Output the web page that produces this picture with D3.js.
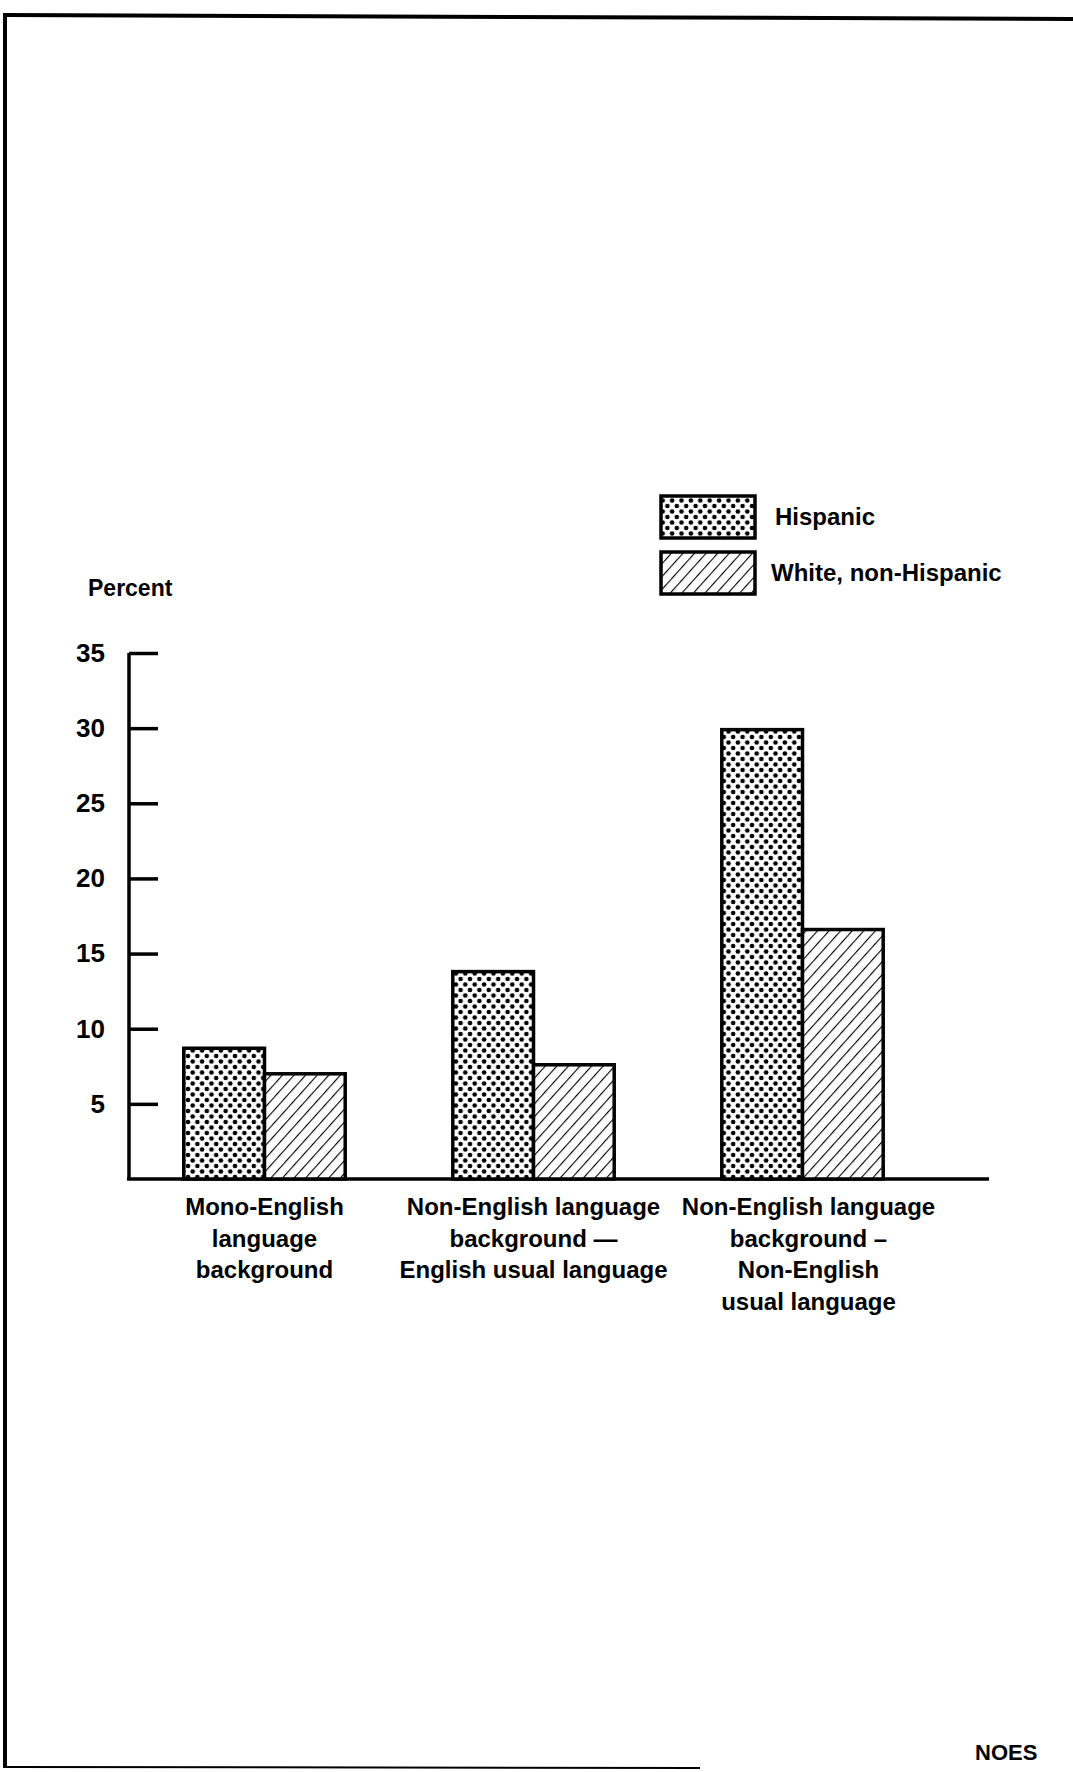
<!DOCTYPE html>
<html>
<head>
<meta charset="utf-8">
<script src="https://cdn.jsdelivr.net/npm/d3@7"></script>
<style>
  html, body { margin: 0; padding: 0; background: #fff; }
  svg { display: block; }
  text { font-family: "Liberation Sans", Arial, Helvetica, sans-serif; font-weight: bold; fill: #000; }
</style>
</head>
<body>
<script>
// ---- data ----
const categories = ["mono", "nonEngEng", "nonEngNonEng"];
const categoryLabels = [
  ["Mono-English", "language", "background"],
  ["Non-English language", "background \u2014", "English usual language"],
  ["Non-English language", "background \u2013", "Non-English", "usual language"]
];
const seriesNames = ["Hispanic", "White, non-Hispanic"];
const hispanicValues = [8.7, 13.8, 29.9];
const whiteValues = [7.0, 7.6, 16.6];
const yTicks = [5, 10, 15, 20, 25, 30, 35];
const yLabel = "Percent";

const W = 1073, H = 1772;
const svg = d3.select("body").append("svg").attr("width", W).attr("height", H);

// patterns
const defs = svg.append("defs");
const dw = 9.4, dh = 11;
const dots = defs.append("pattern").attr("id", "dots").attr("patternUnits", "userSpaceOnUse")
  .attr("width", dw).attr("height", dh);
dots.append("rect").attr("width", dw).attr("height", dh).attr("fill", "#fff");
[[0,0],[dw,0],[0,dh],[dw,dh],[dw/2,dh/2]].forEach(([x,y]) =>
  dots.append("circle").attr("cx", x).attr("cy", y).attr("r", 2.3).attr("fill", "#000"));
const hatch = defs.append("pattern").attr("id", "hatch").attr("patternUnits", "userSpaceOnUse")
  .attr("width", 8.6).attr("height", 10).attr("patternTransform", "rotate(42)");
hatch.append("rect").attr("width", 8.6).attr("height", 10).attr("fill", "#fff");
hatch.append("line").attr("x1", 0).attr("y1", 0).attr("x2", 0).attr("y2", 10)
  .attr("stroke", "#000").attr("stroke-width", 2.2);

const fills = ["url(#dots)", "url(#hatch)"];

// page frame (scan edge)
svg.append("line").attr("x1", 5).attr("y1", 15).attr("x2", W).attr("y2", 19).attr("stroke", "#000").attr("stroke-width", 4);
svg.append("line").attr("x1", 5).attr("y1", 13).attr("x2", 5).attr("y2", 1768).attr("stroke", "#000").attr("stroke-width", 4);
svg.append("line").attr("x1", 5).attr("y1", 1767).attr("x2", 700).attr("y2", 1768).attr("stroke", "#000").attr("stroke-width", 2);

// scales
const x0 = d3.scaleBand().domain(categories).range([130, 937]).paddingInner(0.4).paddingOuter(0.2);
const x1 = d3.scaleBand().domain(seriesNames).range([0, x0.bandwidth()]);
const y = d3.scaleLinear().domain([0, 35]).range([1179, 653]);

// y axis
const yAxis = d3.axisLeft(y).tickValues(yTicks).tickSizeInner(-29).tickSizeOuter(0).tickPadding(24);
const gy = svg.append("g").attr("transform", "translate(129,0)").call(yAxis);
gy.select(".domain").attr("stroke", "#000").attr("stroke-width", 3.5)
  .attr("d", `M0,${y(35)}V${y(0)}`);
gy.selectAll(".tick line").attr("stroke", "#000").attr("stroke-width", 3.5);
gy.selectAll(".tick text").attr("font-size", 26).attr("font-family", "Liberation Sans, Arial, sans-serif")
  .attr("font-weight", "bold").attr("fill", "#000");

// baseline
svg.append("line").attr("x1", 127).attr("x2", 989).attr("y1", y(0)).attr("y2", y(0))
  .attr("stroke", "#000").attr("stroke-width", 3.5);

svg.append("text").attr("x", 88).attr("y", 596).attr("font-size", 23).text(yLabel);

// bars
const seriesValues = [hispanicValues, whiteValues];
categories.forEach((c, ci) => {
  seriesNames.forEach((s, si) => {
    const v = seriesValues[si][ci];
    svg.append("rect")
      .attr("x", x0(c) + x1(s))
      .attr("y", y(v))
      .attr("width", x1.bandwidth())
      .attr("height", y(0) - y(v))
      .attr("fill", fills[si])
      .attr("stroke", "#000").attr("stroke-width", 3.5);
  });
});

// category labels
categories.forEach((c, ci) => {
  const cx = x0(c) + x0.bandwidth() / 2 + (ci === 2 ? 6 : 0);
  const t = svg.append("text").attr("text-anchor", "middle").attr("font-size", 24);
  categoryLabels[ci].forEach((line, li) => {
    t.append("tspan").attr("x", cx).attr("y", 1215 + li * 31.5).text(line);
  });
});

// legend
const legend = svg.append("g");
seriesNames.forEach((s, i) => {
  const ly = 496 + i * 56;
  legend.append("rect").attr("x", 661).attr("y", ly).attr("width", 94).attr("height", 42)
    .attr("fill", fills[i]).attr("stroke", "#000").attr("stroke-width", 3.5);
  legend.append("text").attr("x", i === 0 ? 775 : 771).attr("y", ly + 29).attr("font-size", 24).text(s);
});

// page text at bottom right edge
svg.append("text").attr("x", 975).attr("y", 1760).attr("font-size", 22).text("NOES");
</script>
</body>
</html>
